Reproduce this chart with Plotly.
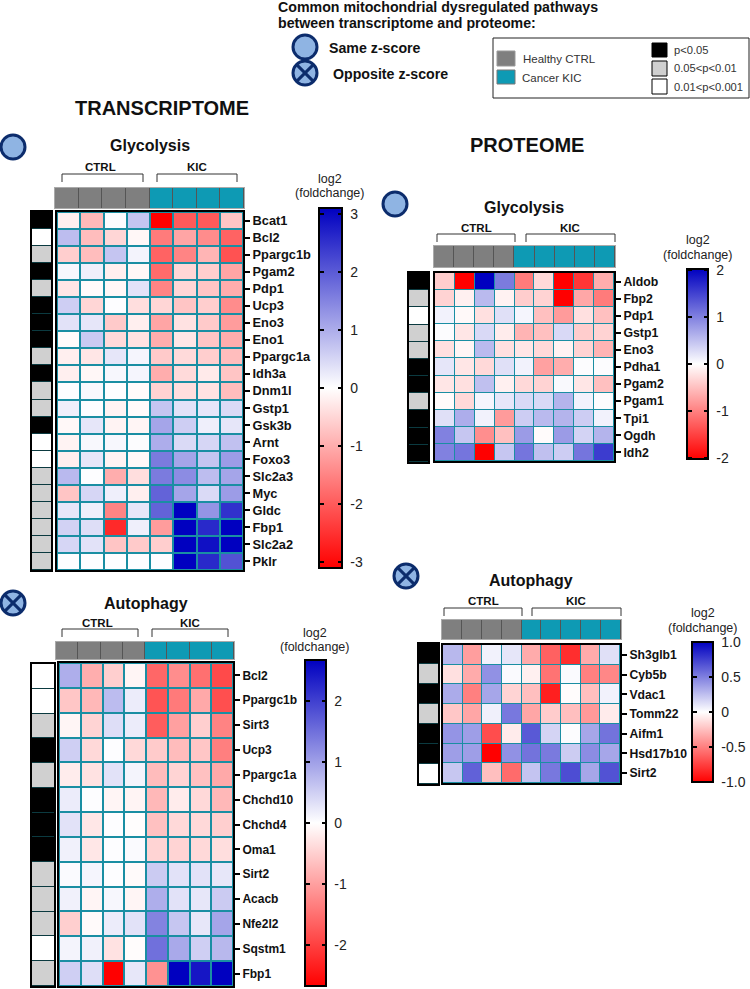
import plotly.graph_objects as go

W, H = 750, 989
FONT = "Liberation Sans"
RED_BLUE = [[0, "#ff0000"], [0.5, "#ffffff"], [1, "#0000c0"]]
CLEAR = [[0, "rgba(0,0,0,0)"], [1, "rgba(0,0,0,0)"]]
GROUP_SCALE = [[0, "#7f7f7f"], [1, "#0e9ab4"]]
P_SCALE = [[0, "#ffffff"], [0.5, "#d0d0d0"], [1, "#000000"]]
TEAL = "#1a8ea3"
B, G, N = 2, 1, 0   # p-value class: black, grey, white

# ---------- Transcriptome / Glycolysis ----------
tg_genes = ["Bcat1", "Bcl2", "Ppargc1b", "Pgam2", "Pdp1", "Ucp3", "Eno3", "Eno1", "Ppargc1a", "Idh3a", "Dnm1l",
            "Gstp1", "Gsk3b", "Arnt", "Foxo3", "Slc2a3", "Myc", "Gldc", "Fbp1", "Slc2a2", "Pklr"]
tg_values = [
    [-0.2, -0.85, 0.05, 0.7, -3.1, -2.0, -2.0, -0.7],
    [0.8, -0.8, -0.5, -0.1, -1.6, -1.1, -1.4, -1.9],
    [-0.6, -0.8, 0.7, 0.15, -1.9, -1.5, -0.9, -2.1],
    [0.1, 0.2, -0.2, -0.1, -1.8, -0.5, -0.6, -1.1],
    [-0.3, -0.05, -0.1, 0.35, -1.5, -0.5, -0.7, -1.0],
    [0.6, -0.5, 0.02, -0.4, -0.5, -0.7, -0.6, -1.4],
    [0.35, 0.3, -0.65, -0.2, -1.1, -0.35, -0.65, -1.2],
    [-0.05, 0.65, -0.45, -0.35, -1.0, -0.3, -0.7, -1.0],
    [-0.2, -0.3, 0.3, 0.12, -0.65, -0.45, -0.6, -0.8],
    [-0.2, -0.1, 0.1, 0.12, -1.0, -0.45, -0.25, -0.7],
    [0.02, 0.08, 0.02, -0.05, -0.55, -0.4, -0.35, -0.8],
    [0.2, 0.02, -0.15, -0.05, 0.7, 0.35, 0.3, 0.45],
    [-0.08, 0.3, -0.15, -0.12, 1.1, 0.6, 0.2, 0.3],
    [-0.15, 0.08, 0.1, 0.04, 1.0, 0.45, 0.5, 0.75],
    [-0.2, 0.3, -0.15, -0.08, 1.6, 1.1, 0.7, 1.2],
    [0.85, 0.02, -1.0, -0.4, 1.6, 1.4, 0.8, 1.1],
    [-0.7, 0.5, 0.2, -0.2, 1.9, 1.1, 0.45, 1.2],
    [0.3, 0.2, -1.5, 0.3, 1.9, 3.1, 1.3, 2.5],
    [0.55, 0.4, -2.6, 0.2, -1.2, 3.1, 2.6, 3.1],
    [0.5, 0.35, -0.7, -0.65, -0.6, 3.1, 2.9, 3.1],
    [0.02, 0.02, 0.02, 0.02, 0.02, 3.1, 2.6, 2.1],
]
tg_p = [B, N, G, B, G, B, B, B, G, B, G, G, B, N, N, G, G, G, G, G, G]
tg_groups = [0, 0, 0, 0, 1, 1, 1, 1]
tg_ticks = [-3, -2, -1, 0, 1, 2, 3]

# ---------- Transcriptome / Autophagy ----------
ta_genes = ["Bcl2", "Ppargc1b", "Sirt3", "Ucp3", "Ppargc1a", "Chchd10", "Chchd4", "Oma1", "Sirt2", "Acacb",
            "Nfe2l2", "Sqstm1", "Fbp1"]
ta_values = [
    [0.85, -0.85, -0.5, -0.1, -1.6, -1.2, -1.5, -1.9],
    [-0.6, -0.75, 0.7, 0.2, -1.8, -1.4, -0.9, -1.85],
    [-0.1, -0.45, 0.35, 0.2, -1.7, -1.0, -0.5, -1.3],
    [0.5, -0.4, 0.02, -0.4, -0.55, -0.7, -0.6, -1.35],
    [-0.2, -0.3, 0.3, 0.12, -0.7, -0.45, -0.65, -0.9],
    [0.2, 0.02, -0.1, -0.12, -0.75, -0.2, -0.4, -0.75],
    [0.3, -0.25, 0.02, -0.02, -0.65, -0.4, -0.4, -0.5],
    [0.15, -0.25, 0.02, 0.05, -0.45, -0.45, -0.4, -0.35],
    [0.05, 0.1, 0.02, -0.05, 0.55, 0.3, 0.3, 0.25],
    [0.15, -0.1, 0.08, -0.1, 0.85, 0.3, 0.25, 0.55],
    [-0.5, -0.05, 0.2, 0.3, 1.3, 0.6, 0.25, 0.95],
    [0.12, 0.15, -0.3, -0.03, 1.5, 0.9, 0.5, 0.75],
    [0.5, 0.35, -2.68, 0.25, -1.15, 2.68, 2.45, 2.68],
]
ta_p = [N, N, G, B, G, B, B, B, G, G, G, N, G]
ta_groups = [0, 0, 0, 0, 1, 1, 1, 1]
ta_ticks = [-2, -1, 0, 1, 2]

# ---------- Proteome / Glycolysis ----------
pg_genes = ["Aldob", "Fbp2", "Pdp1", "Gstp1", "Eno3", "Pdha1", "Pgam2", "Pgam1", "Tpi1", "Ogdh", "Idh2"]
pg_values = [
    [-0.4, -2.03, 2.03, 1.05, -1.05, -0.3, -2.03, -1.6, -0.65],
    [-0.35, -0.12, 0.55, -0.1, -0.4, -0.35, -2.03, -0.7, -1.05],
    [0.1, -0.05, -0.25, 0.25, 0.08, -0.5, -0.8, -0.25, -0.5],
    [0.02, -0.2, 0.3, -0.15, -0.6, -0.5, 0.3, -0.4, -0.35],
    [-0.25, -0.08, 0.55, -0.25, -0.2, -0.3, -0.1, -0.35, -0.6],
    [0.2, -0.2, -0.3, 0.25, 0.1, -0.75, -0.65, 0.02, 0.02],
    [-0.2, -0.25, 0.5, -0.12, -0.3, -0.35, 0.05, -0.2, -0.5],
    [-0.03, -0.3, 0.08, 0.2, 0.3, 0.3, 0.6, 0.1, 0.02],
    [0.25, 0.65, 0.1, -0.8, 0.4, 0.55, 0.6, 0.4, 0.1],
    [1.0, 0.45, -0.9, -0.5, 0.8, -0.03, 0.8, 0.35, 0.6],
    [1.0, 1.1, -2.03, 0.45, 1.1, 0.5, 0.4, 1.1, 1.55],
]
pg_p = [B, G, N, G, G, B, B, G, B, B, B]
pg_groups = [0, 0, 0, 0, 1, 1, 1, 1, 1]
pg_ticks = [-2, -1, 0, 1, 2]

# ---------- Proteome / Autophagy ----------
pa_genes = ["Sh3glb1", "Cyb5b", "Vdac1", "Tomm22", "Aifm1", "Hsd17b10", "Sirt2"]
pa_values = [
    [0.28, -0.38, 0.05, 0.1, -0.33, -0.62, -0.82, -0.33, 0.12],
    [-0.12, -0.33, 0.43, 0.02, -0.06, -0.55, 0.02, -0.5, -0.47],
    [0.33, -0.5, 0.35, -0.17, -0.25, -0.88, -0.01, -0.25, 0.05],
    [-0.22, -0.35, 0.06, 0.53, -0.35, -0.2, -0.25, -0.4, -0.08],
    [0.42, 0.38, -0.7, -0.08, 0.65, 0.17, 0.01, 0.35, 0.55],
    [0.38, 0.38, -1.0, 0.43, 0.55, 0.52, 0.2, 0.45, 0.35],
    [0.22, 0.62, -0.25, -0.58, 0.23, 0.53, 0.7, 0.35, 0.68],
]
pa_p = [B, G, B, G, B, B, N]
pa_groups = [0, 0, 0, 0, 1, 1, 1, 1, 1]
pa_ticks = [-1.0, -0.5, 0, 0.5, 1.0]
pa_ticktext = ["-1.0", "-0.5", "0", "0.5", "1.0"]

fig = go.Figure()
annotations, shapes = [], []
axis_count = [0]


def px(x):
    return x / W


def py(y):
    return 1 - y / H


def text(x, y, s, size=12, bold=False, anchor="center", color="#111111"):
    annotations.append(dict(x=px(x - 2 if anchor == "left" else x), y=py(y), xref="paper", yref="paper", text=s,
                            showarrow=False, xanchor=anchor, yanchor="middle", align=anchor,
                            font=dict(family=FONT, size=size, color=color, weight="bold" if bold else "normal")))


def line(x0, y0, x1, y1, color="#333333", width=1):
    shapes.append(dict(type="line", xref="paper", yref="paper", x0=px(x0), y0=py(y0), x1=px(x1), y1=py(y1),
                       line=dict(color=color, width=width)))


def rect(x0, y0, x1, y1, fill, color="#000000", width=1):
    shapes.append(dict(type="rect", xref="paper", yref="paper", x0=px(x0), y0=py(y0), x1=px(x1), y1=py(y1),
                       fillcolor=fill, line=dict(color=color, width=width)))


def disc(cx, cy, crossed=False, r=12):
    shapes.append(dict(type="circle", xref="paper", yref="paper", x0=px(cx - r), x1=px(cx + r), y0=py(cy - r),
                       y1=py(cy + r), fillcolor="#8fb4e3", line=dict(color="#0c2c6c", width=3)))
    if crossed:
        d = r * 0.72
        line(cx - d, cy - d, cx + d, cy + d, "#0c2c6c", 3)
        line(cx - d, cy + d, cx + d, cy - d, "#0c2c6c", 3)


def axes(x0, x1, y0, y1, yopts=None, linecolor="#000000", linewidth=2, bg=TEAL):
    axis_count[0] += 1
    n = axis_count[0]
    suffix = "" if n == 1 else str(n)
    xa = dict(domain=[px(x0), px(x1)], anchor=f"y{suffix}", showticklabels=False, ticks="", showgrid=False,
              zeroline=False, showline=True, mirror=True, linecolor=linecolor, linewidth=linewidth)
    ya = dict(domain=[py(y1), py(y0)], anchor=f"x{suffix}", showticklabels=False, ticks="", showgrid=False,
              zeroline=False, showline=True, mirror=True, linecolor=linecolor, linewidth=linewidth,
              autorange="reversed")
    if yopts:
        ya.update(yopts)
    fig.update_layout(**{f"xaxis{suffix}": xa, f"yaxis{suffix}": ya})
    shapes.append(dict(type="rect", xref="paper", yref="paper", x0=px(x0), x1=px(x1), y0=py(y1), y1=py(y0),
                       fillcolor=bg, line=dict(width=0), layer="below"))
    return f"x{suffix}", f"y{suffix}"


def panel(genes, values, p, groups, ticks, tick_labels, limit, heat, header, side, bar, gap,
          title, title_xy, circle, brackets, cap, cap_x, label_size):
    xa, ya = axes(*heat, yopts=dict(
        side="right", showticklabels=True, tickmode="array", tickvals=genes, ticktext=genes, ticks="outside",
        ticklen=5, tickwidth=2, tickcolor="#000000",
        tickfont=dict(family=FONT, size=label_size, color="#111111", weight="bold")))
    colorbar = dict(
        x=px(bar[0]), xanchor="left", xpad=0, y=py(bar[2]), yanchor="top", ypad=0,
        thickness=bar[1] - bar[0], thicknessmode="pixels", len=bar[3] - bar[2], lenmode="pixels",
        outlinecolor="#000000", outlinewidth=2, tickmode="array", tickvals=ticks, ticktext=tick_labels,
        ticks="outside", ticklen=5, tickwidth=1, tickcolor="rgba(0,0,0,0)",
        tickfont=dict(family=FONT, size=14, color="#222222"))
    fig.add_trace(go.Heatmap(z=values, y=genes, xaxis=xa, yaxis=ya, colorscale=RED_BLUE, zmin=-limit, zmax=limit,
                             xgap=gap, ygap=gap, colorbar=colorbar, hoverinfo="skip"))
    # two see-through colour bars, only there to draw the notches on both inner edges of the bar
    for start in (bar[0], bar[1] - 5):
        notch = dict(
            x=px(start), xanchor="left", xpad=0, y=py(bar[2]), yanchor="top", ypad=0,
            thickness=1, thicknessmode="pixels", len=bar[3] - bar[2], lenmode="pixels", outlinewidth=0,
            tickmode="array", tickvals=ticks, ticks="outside", ticklen=4, tickwidth=1.5, tickcolor="#000000",
            showticklabels=False)
        fig.add_trace(go.Heatmap(z=values, y=genes, xaxis=xa, yaxis=ya, colorscale=CLEAR, zmin=-limit, zmax=limit,
                                 colorbar=notch, hoverinfo="skip"))
    xa, ya = axes(*header, linecolor="#aaaaaa", linewidth=1, bg="#555555")
    fig.add_trace(go.Heatmap(z=[groups], xaxis=xa, yaxis=ya, colorscale=GROUP_SCALE, zmin=0, zmax=1, xgap=1,
                             showscale=False, hoverinfo="skip"))
    xa, ya = axes(*side, bg="#0b3a40")
    fig.add_trace(go.Heatmap(z=[[v] for v in p], xaxis=xa, yaxis=ya, colorscale=P_SCALE, zmin=0, zmax=2, ygap=1,
                             showscale=False, hoverinfo="skip"))
    text(title_xy[0], title_xy[1], title, 16, True)
    disc(circle[0], circle[1], title_xy[2])
    for label, bx0, bx1, by0, by1, lx, ly in brackets:
        line(bx0, by1, bx0, by0)
        line(bx0, by0, bx1, by0)
        line(bx1, by0, bx1, by1)
        text(lx, ly, label, 11.5, True)
    text(cap_x, cap[0], "log2", 12.5, color="#222222")
    text(cap_x, cap[1], "(foldchange)", 12.5, color="#222222")


panel(tg_genes, tg_values, tg_p, tg_groups, tg_ticks, [str(t) for t in tg_ticks], 3.1,
      (57, 243, 212, 570), (55, 244, 188, 208), (32, 51, 212, 570), (319, 342, 208, 568), 2,
      "Glycolysis", (150, 145, False), (13, 147),
      [("CTRL", 62, 143, 174, 182, 100, 167), ("KIC", 157, 237, 174, 182, 197, 167)], (179, 193), 330, 12.8)

panel(ta_genes, ta_values, ta_p, ta_groups, ta_ticks, [str(t) for t in ta_ticks], 2.68,
      (59, 233, 663, 986), (56, 234, 642, 659), (32, 54, 664, 986), (305, 326, 660, 986), 2,
      "Autophagy", (146, 603, True), (13, 603),
      [("CTRL", 62, 138, 629, 637, 98, 623), ("KIC", 152, 228, 629, 637, 190, 623)], (633, 647), 315, 12)

panel(pg_genes, pg_values, pg_p, pg_groups, pg_ticks, [str(t) for t in pg_ticks], 2.03,
      (435, 614, 273, 461), (434, 615, 246, 267), (409, 428, 273, 462), (687, 708, 269, 459), 1,
      "Glycolysis", (524, 207, False), (395, 204),
      [("CTRL", 437, 515, 234, 242, 476, 228), ("KIC", 526, 615, 234, 242, 570, 228)], (240, 255), 698, 12.3)

panel(pa_genes, pa_values, pa_p, pa_groups, pa_ticks, pa_ticktext, 1.0,
      (443, 620, 645, 783), (442, 621, 620, 639), (419, 438, 644, 784), (692, 713, 642, 782), 1,
      "Autophagy", (531, 580, True), (406, 576),
      [("CTRL", 444, 522, 608, 616, 483, 601), ("KIC", 532, 621, 608, 616, 576, 601)], (613, 628), 703, 12.2)

# Header texts
text(278, 7, "Common mitochondrial dysregulated pathways", 14.2, True, "left")
text(278, 23, "between transcriptome and proteome:", 14.2, True, "left")
disc(305, 47)
text(329, 48, "Same z-score", 14.2, True, "left")
disc(305, 73, True)
text(333, 74, "Opposite z-score", 14.2, True, "left")
text(75, 108, "TRANSCRIPTOME", 20, True, "left")
text(470, 145, "PROTEOME", 20, True, "left")

# Legend box
rect(493, 38, 749, 98, "rgba(255,255,255,0)", "#222222", 1)
rect(497, 51, 515, 66, "#7f7f7f", "#999999")
rect(497, 70, 515, 84, "#0e9ab4", "#777777")
text(523, 59, "Healthy CTRL", 11.5, False, "left", "#333333")
text(522, 78, "Cancer KIC", 11.5, False, "left", "#333333")
rect(652, 43, 667, 57, "#000000")
rect(652, 61, 667, 76, "#d0d0d0")
rect(652, 79, 667, 94, "#ffffff")
text(674, 50, "p&lt;0.05", 11.2, False, "left", "#333333")
text(674, 68, "0.05&lt;p&lt;0.01", 11.2, False, "left", "#333333")
text(674, 87, "0.01&lt;p&lt;0.001", 11.2, False, "left", "#333333")

fig.update_layout(width=W, height=H, margin=dict(l=0, r=0, t=0, b=0, pad=0, autoexpand=False),
                  paper_bgcolor="#ffffff", plot_bgcolor="rgba(0,0,0,0)", showlegend=False,
                  annotations=annotations, shapes=shapes)
fig.write_html("out.html", config={"displayModeBar": False},
               post_script="document.body.style.margin='0';document.body.style.padding='0';")
